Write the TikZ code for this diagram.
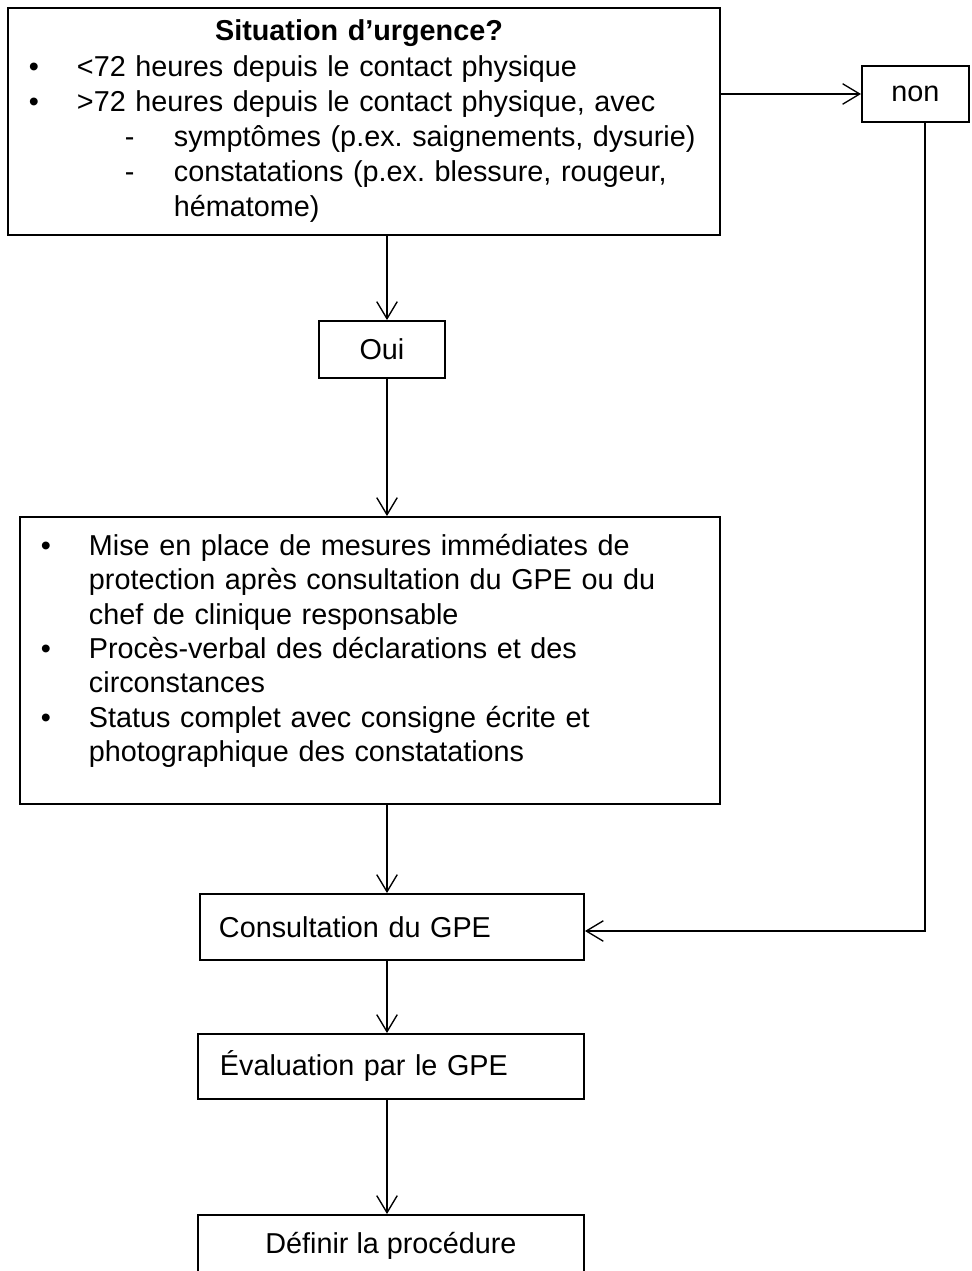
\documentclass[tikz,border=0pt]{standalone}
\usepackage{fontspec}
\setmainfont{Liberation Sans}
\usetikzlibrary{arrows.meta,positioning}

\newlength{\px}
\setlength{\px}{0.41pt}
\newcommand{\puce}{\hspace*{21\px}\makebox[48\px][l]{\textbullet}}
\newcommand{\suite}{\hspace*{69\px}}
\newcommand{\tiret}{\hspace*{117\px}\makebox[49\px][l]{-}}
\frenchspacing

\begin{document}
\begin{tikzpicture}[x=1\px,y=-1\px,
        box/.style={draw,line width=0.8pt,inner sep=0pt,anchor=north west,
            font=\fontsize{11.8}{14.43}\selectfont},
        fleche/.style={-{Straight Barb[length=7pt,width=8.4pt]},line width=0.55pt}]

        \useasboundingbox (0,0) rectangle (971,1271);

        % Define boxes
        \node[box,minimum width=712\px,minimum height=227\px,text width=712\px,align=left] (urgence) at (7,7)
            {\makebox[\linewidth]{\bfseries Situation d’urgence?\hspace*{10\px}}\\
             \puce <72 heures depuis le contact physique\\
             \puce >72 heures depuis le contact physique, avec\\
             \tiret symptômes (p.ex. saignements, dysurie)\\
             \tiret constatations (p.ex. blessure, rougeur,\\
             \hspace*{166\px}hématome)};
        \node[box,minimum width=107\px,minimum height=56\px] (non) at (861,65) {non};
        \node[box,minimum width=126\px,minimum height=57\px] (oui) at (318,320) {Oui};
        \node[box,minimum width=700\px,minimum height=287\px,text width=700\px,align=left,
            font=\fontsize{11.8}{14.1}\selectfont] (mesures) at (19,516)
            {\puce Mise en place de mesures immédiates de\\
             \suite protection après consultation du GPE ou du\\
             \suite chef de clinique responsable\\
             \puce Procès-verbal des déclarations et des\\
             \suite circonstances\\
             \puce Status complet avec consigne écrite et\\
             \suite photographique des constatations\rule[-25\px]{0pt}{1pt}};
        \node[box,minimum height=66\px,inner xsep=19\px,text width=346\px,align=left] (consult) at (199,893)
            {Consultation du GPE};
        \node[box,minimum height=65\px,inner xsep=22\px,text width=342\px,align=left] (eval) at (197,1033)
            {Évaluation par le GPE};
        \node[box,minimum width=386\px,minimum height=61\px] (def) at (197,1214) {Définir la procédure};

        \coordinate (axe) at (387,0);
        \coordinate (coude) at (925,931);

        % Draw arrows
        \path[fleche]
            (urgence.south -| axe) edge (oui.north -| axe)
            (oui.south -| axe) edge (mesures.north -| axe)
            (mesures.south -| axe) edge (consult.north -| axe)
            (consult.south -| axe) edge (eval.north -| axe)
            (eval.south -| axe) edge (def.north -| axe)
            (urgence.east |- non.west) edge (non.west);
        \draw[fleche] (non.south -| coude) |- (consult.east |- coude);

\end{tikzpicture}
\end{document}
